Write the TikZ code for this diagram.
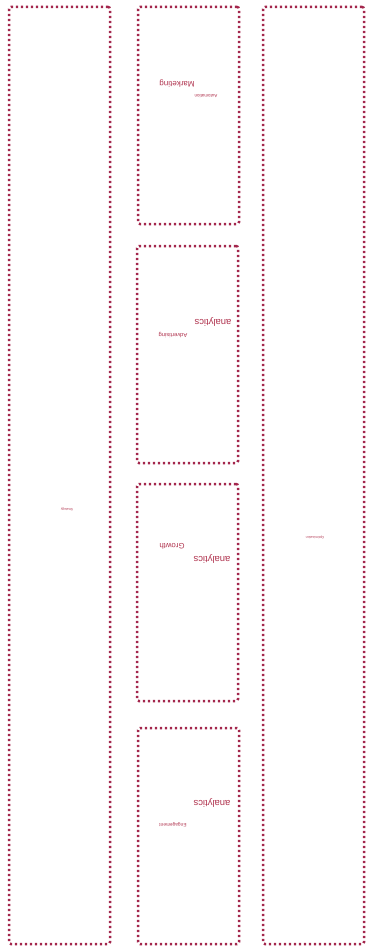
\documentclass[tikz,border=0pt]{standalone}
\usepackage{fontspec}
\setmainfont{Liberation Sans}
\definecolor{dotc}{HTML}{A3264C}
\definecolor{txtc}{HTML}{B0344F}
\begin{document}
\begin{tikzpicture}[x=1pt,y=-1pt,
  colbox/.style={draw=dotc, line width=2.5pt, dash pattern=on 2.2pt off 2.8pt, rounded corners=2pt, inner sep=0pt},
  lbl/.style={text=txtc, rotate=180, inner sep=0pt, anchor=center},
]
\useasboundingbox (0,0) rectangle (367,947);
\node[colbox, minimum width=101pt, minimum height=937pt] (leftcol) at (59.5,475.5) {};
\node[colbox, minimum width=101pt, minimum height=937pt] (rightcol) at (313.5,475.5) {};
\node[colbox, minimum width=101pt, minimum height=217pt] (box1) at (188.5,115.5) {};
\node[colbox, minimum width=101pt, minimum height=217pt] (box2) at (187.5,354.5) {};
\node[colbox, minimum width=101pt, minimum height=217pt] (box3) at (187.5,592.5) {};
\node[colbox, minimum width=101pt, minimum height=216pt] (box4) at (188.5,836) {};
\node[lbl, font=\fontsize{8}{9}\selectfont] (m1) at (177,84) {Marketing};
\node[lbl, font=\fontsize{4.5}{5}\selectfont] (m2) at (206,96) {Automation};
\node[lbl, font=\fontsize{9.5}{11}\selectfont] (a1) at (213,322) {analytics};
\node[lbl, font=\fontsize{5.8}{6}\selectfont] (a2) at (173,335) {Advertising};
\node[lbl, font=\fontsize{7.8}{9}\selectfont] (g1) at (172,546) {Growth};
\node[lbl, font=\fontsize{9.5}{11}\selectfont] (g2) at (212,559) {analytics};
\node[lbl, font=\fontsize{9.5}{11}\selectfont] (e1) at (212,803) {analytics};
\node[lbl, font=\fontsize{4.8}{5}\selectfont] (e2) at (173,825) {Engagement};
\node[lbl, font=\fontsize{3.3}{4}\selectfont] (lt) at (67,509) {Strategy};
\node[lbl, font=\fontsize{3.3}{4}\selectfont] (rt) at (315,537) {Optimization};
\end{tikzpicture}
\end{document}
